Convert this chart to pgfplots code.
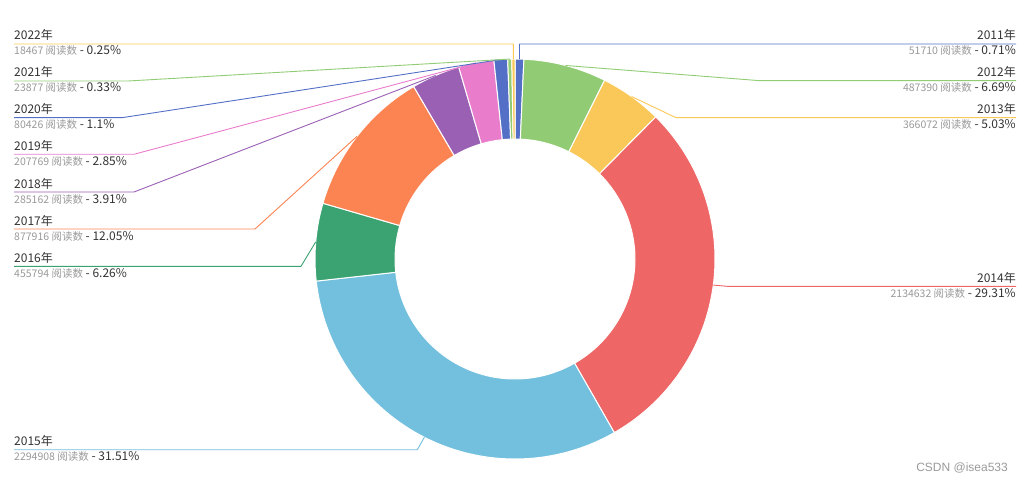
\documentclass[border=0pt]{standalone}
\usepackage{pgfplots}
\pgfplotsset{compat=1.18}
\usepackage{pgfplotstable}
\usepackage{fontspec}
\setmainfont{Noto Sans CJK SC}
\newfontfamily\wmfont{Liberation Sans}

\definecolor{c0}{HTML}{5470C6}
\definecolor{c1}{HTML}{91CC75}
\definecolor{c2}{HTML}{FAC858}
\definecolor{c3}{HTML}{EE6666}
\definecolor{c4}{HTML}{73C0DE}
\definecolor{c5}{HTML}{3BA272}
\definecolor{c6}{HTML}{FC8452}
\definecolor{c7}{HTML}{9A60B4}
\definecolor{c8}{HTML}{EA7CCC}
\definecolor{c9}{HTML}{5470C6}
\definecolor{c10}{HTML}{91CC75}
\definecolor{c11}{HTML}{FAC858}
\definecolor{tdark}{HTML}{333333}
\definecolor{tgray}{HTML}{999999}
\definecolor{wm}{HTML}{9A9A9A}

% year, reads, percent label, side (1 right / -1 left), label line y (px from top), elbow x (px)
\pgfplotstableread{
year value pct side ly ex
2011 51710 0.71 1 44 519.5
2012 487390 6.69 1 80.7 760
2013 366072 5.03 1 117.7 676
2014 2134632 29.31 1 286.3 727
2015 2294908 31.51 -1 449.7 417.3
2016 455794 6.26 -1 266.3 301
2017 877916 12.05 -1 229 255
2018 285162 3.91 -1 192 134
2019 207769 2.85 -1 154.3 134
2020 80426 1.1 -1 117.7 122
2021 23877 0.33 -1 81 128
2022 18467 0.25 -1 44 513.4
}\datatable

\newcommand\yeartext[1]{\csname yr#1\endcsname 年}
\newcommand\infotext[1]{{\fontsize{10.5}{12}\selectfont\color{tgray}\csname val#1\endcsname\ 阅读数} - \csname pct#1\endcsname\%}

\begin{document}
\begin{tikzpicture}
\pgfplotstablegetrowsof{\datatable}
\pgfmathtruncatemacro{\N}{\pgfplotsretval-1}
\gdef\total{0}
\foreach \i in {0,...,\N}{%
  \pgfplotstablegetelem{\i}{value}\of{\datatable}%
  \xdef\total{\fpeval{\total+\pgfplotsretval}}%
}
\gdef\cum{0}
\foreach \i in {0,...,\N}{%
  \pgfplotstablegetelem{\i}{value}\of{\datatable}\edef\curv{\pgfplotsretval}%
  \expandafter\xdef\csname val\i\endcsname{\curv}%
  \expandafter\xdef\csname sa\i\endcsname{\fpeval{round(90-360*\cum/\total,4)}}%
  \xdef\cum{\fpeval{\cum+\curv}}%
  \expandafter\xdef\csname ea\i\endcsname{\fpeval{round(90-360*\cum/\total,4)}}%
  \expandafter\xdef\csname ma\i\endcsname{\fpeval{round((\csname sa\i\endcsname+\csname ea\i\endcsname)/2,4)}}%
  \pgfplotstablegetelem{\i}{year}\of{\datatable}%
  \expandafter\xdef\csname yr\i\endcsname{\pgfplotsretval}%
  \pgfplotstablegetelem{\i}{pct}\of{\datatable}%
  \expandafter\xdef\csname pct\i\endcsname{\pgfplotsretval}%
  \pgfplotstablegetelem{\i}{ex}\of{\datatable}%
  \expandafter\xdef\csname ex\i\endcsname{\pgfplotsretval}%
  \pgfplotstablegetelem{\i}{ly}\of{\datatable}\edef\curly{\pgfplotsretval}%
  \expandafter\xdef\csname ly\i\endcsname{\fpeval{483-\curly}}%
  \expandafter\xdef\csname yba\i\endcsname{\fpeval{483-\curly+4}}%
  \expandafter\xdef\csname ybb\i\endcsname{\fpeval{483-\curly-11}}%
  \pgfplotstablegetelem{\i}{side}\of{\datatable}%
  \ifnum\pgfplotsretval>0
    \expandafter\xdef\csname lx\i\endcsname{1016}%
    \expandafter\xdef\csname an\i\endcsname{east}%
  \else
    \expandafter\xdef\csname lx\i\endcsname{14}%
    \expandafter\xdef\csname an\i\endcsname{west}%
  \fi
}
\begin{axis}[scale only axis, width=1031pt, height=483pt,
  xmin=0, xmax=1031, ymin=0, ymax=483, hide axis, clip=false]
\path (axis cs:0,0) rectangle (axis cs:1031,483);
\coordinate (C) at (axis cs:515,224);
\pgfplotsinvokeforeach{0,...,11}{%
  \edef\temp{%
    \noexpand\fill[fill=c#1, draw=white, line width=1pt, line join=round] (C) ++(\csname sa#1\endcsname:200pt) arc[start angle=\csname sa#1\endcsname, end angle=\csname ea#1\endcsname, radius=200pt] -- ([shift={(C)}]\csname ea#1\endcsname:120pt) arc[start angle=\csname ea#1\endcsname, end angle=\csname sa#1\endcsname, radius=120pt] -- cycle;
    \noexpand\draw[c#1, line width=0.9pt, line join=round] ([shift={(C)}]\csname ma#1\endcsname:200pt) -- (axis cs:\csname ex#1\endcsname,\csname ly#1\endcsname) -- (axis cs:\csname lx#1\endcsname,\csname ly#1\endcsname);
    \noexpand\node[anchor=base \csname an#1\endcsname, inner sep=0pt, text=tdark, font=\noexpand\fontsize{12}{14}\noexpand\selectfont] at (axis cs:\csname lx#1\endcsname,\csname yba#1\endcsname) {\noexpand\yeartext{#1}};
    \noexpand\node[anchor=base \csname an#1\endcsname, inner sep=0pt, text=tdark, font=\noexpand\fontsize{12}{14}\noexpand\selectfont] at (axis cs:\csname lx#1\endcsname,\csname ybb#1\endcsname) {\noexpand\infotext{#1}};
  }\temp
}
\node[anchor=base east, inner sep=0pt, text=wm, font=\wmfont\fontsize{12}{14}\selectfont] at (axis cs:1008,11.3) {CSDN @isea533};
\end{axis}
\end{tikzpicture}
\end{document}
